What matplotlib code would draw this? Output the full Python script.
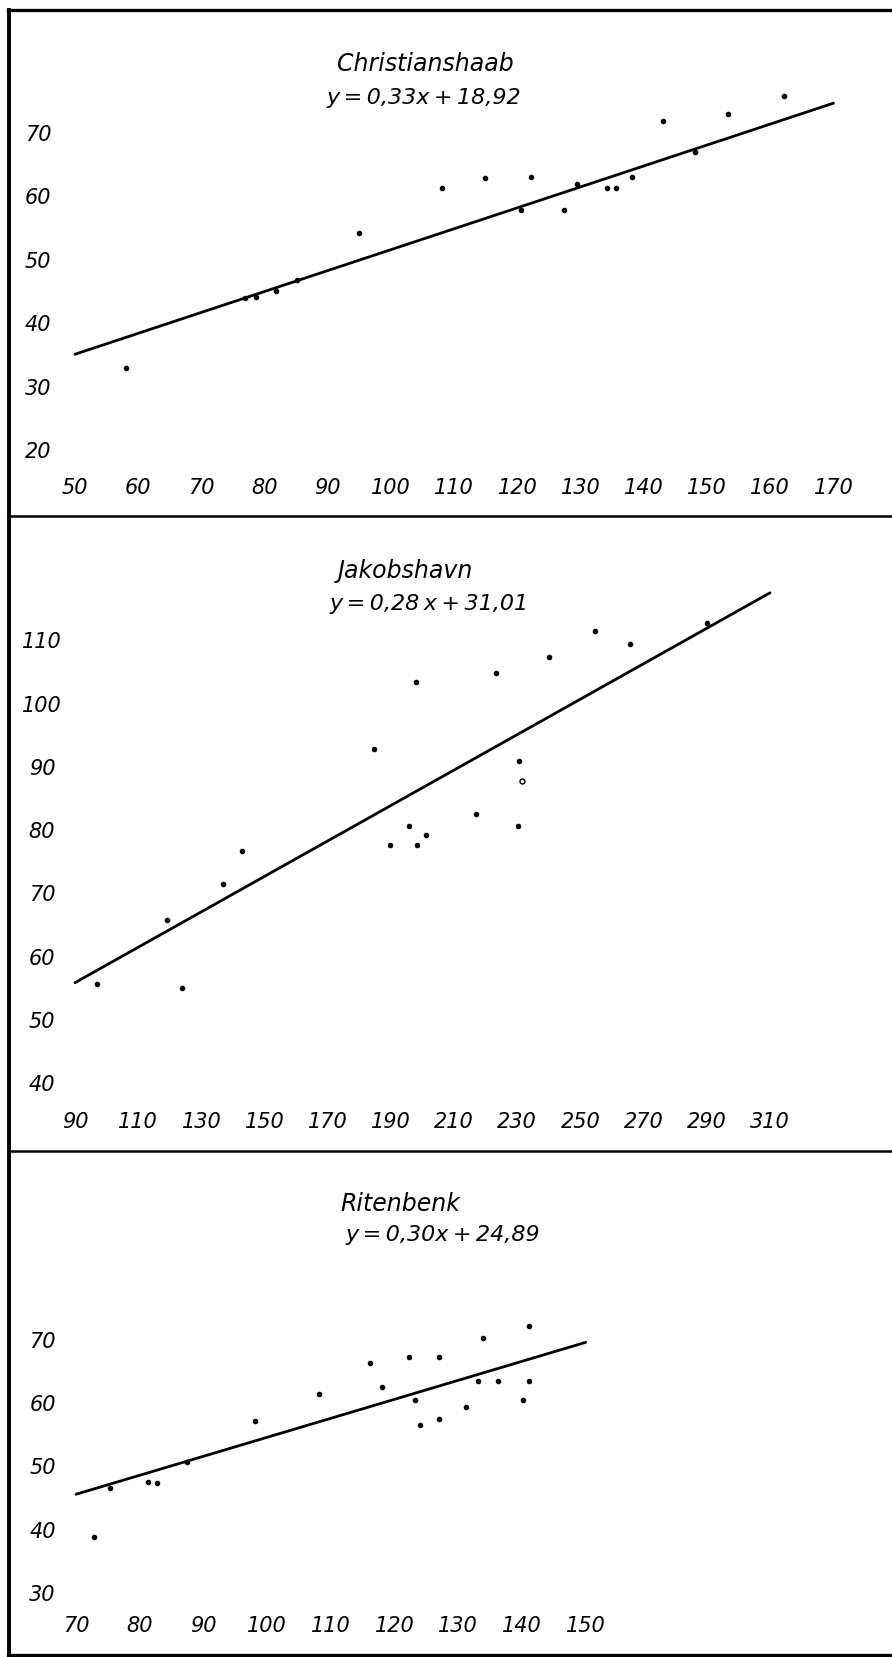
"""
Regression of three West Greenland stations, redrawn from a hand-lettered figure.
Three stacked panels: Christianshaab, Jakobshavn, Ritenbenk.
"""

import matplotlib.pyplot as plt
from matplotlib.lines import Line2D

W, H, DPI = 892, 1657, 100

# ── data ─────────────────────────────────────────────────
chr_x = [58.1, 76.9, 78.7, 81.8, 85.2, 95.0, 108.0, 114.9, 122.2, 120.6,
         127.3, 129.4, 134.2, 135.6, 138.1, 143.1, 148.1, 153.4, 162.2]
chr_y = [33.2, 44.3, 44.5, 45.4, 47.2, 54.5, 61.7, 63.2, 63.4, 58.2,
         58.2, 62.2, 61.6, 61.6, 63.3, 72.2, 67.4, 73.3, 76.2]

jak_x = [96.9, 119.0, 123.8, 136.9, 142.9, 184.8, 198.0, 189.7, 195.8, 198.3,
         201.1, 216.9, 223.2, 240.1, 254.5, 265.8, 290.0, 230.5, 230.1]
jak_y = [56.0, 66.1, 55.3, 71.8, 77.0, 93.2, 103.7, 78.0, 80.9, 77.9,
         79.5, 82.9, 105.1, 107.7, 111.7, 109.7, 113.0, 91.2, 80.9]
jak_open_x = [231.4]
jak_open_y = [88.0]

rit_x = [72.9, 75.3, 81.3, 82.7, 87.4, 98.1, 108.2, 116.1, 118.0, 122.2, 123.2,
         124.0, 127.0, 127.0, 131.2, 133.1, 133.9, 136.2, 140.1, 141.1, 141.1]
rit_y = [39.2, 46.9, 47.9, 47.6, 51.0, 57.4, 61.8, 66.7, 62.8, 67.6, 60.8,
         56.8, 67.6, 57.8, 59.7, 63.8, 70.5, 63.8, 60.8, 63.8, 72.4]

names = ['Christianshaab', 'Jakobshavn', 'Ritenbenk']
T = '\u2009'  # thin space, the lettering is set tight
equations = [f'y{T}={T}0,33x{T}+{T}18,92',
             f'y{T}={T}0,28{T}x{T}+{T}31,01',
             f'y{T}={T}0,30x{T}+{T}24,89']
slopes = [0.33, 0.28, 0.30]
intercepts = [18.92, 31.01, 24.89]
line_x = [(50, 170), (90, 310), (70, 150)]

x_ticks = [list(range(50, 171, 10)), list(range(90, 311, 20)), list(range(70, 151, 10))]
y_ticks = [list(range(20, 71, 10)), list(range(40, 111, 10)), list(range(30, 71, 10))]

# ── layout (pixels) ──────────────────────────────────────
# axes box: left, right, bottom, top in px ; limits ; label pads (px)
panels = [
    dict(box=(75, 833.4, 452, 84.3), xlim=(50, 170), ylim=(20, 78),
         ypad=37, xpad=36, title=(425, 64), eq=(424, 98)),
    dict(box=(75, 770, 1085.3, 591.6), xlim=(90, 310), ylim=(40, 118),
         ypad=33, xpad=37, title=(406, 571), eq=(429, 604)),
    dict(box=(76, 585.7, 1594.9, 1316.3), xlim=(70, 150), ylim=(30, 74),
         ypad=33.5, xpad=31, title=(400, 1204), eq=(443, 1235)),
]
series = [(chr_x, chr_y), (jak_x, jak_y), (rit_x, rit_y)]

FONT = dict(family='DejaVu Sans', style='oblique')
px2pt = 72 / DPI

fig = plt.figure(figsize=(W / DPI, H / DPI), dpi=DPI)
fig.patch.set_facecolor('white')


def fx(px):
    return px / W


def fy(py):
    return 1 - py / H


for i, p in enumerate(panels):
    l, r, b, t = p['box']
    ax = fig.add_axes([fx(l), fy(b), (r - l) / W, (b - t) / H])
    ax.set_facecolor('none')
    ax.set_xlim(*p['xlim'])
    ax.set_ylim(*p['ylim'])
    for s in ax.spines.values():
        s.set_visible(False)

    ax.set_xticks(x_ticks[i], [str(v) for v in x_ticks[i]],
                  va='center', ha='center', fontsize=15, **FONT)
    ax.set_yticks(y_ticks[i], [str(v) for v in y_ticks[i]],
                  va='center', ha='center', fontsize=15, **FONT)
    ax.tick_params(axis='x', length=0, pad=p['xpad'] * px2pt)
    ax.tick_params(axis='y', length=0, pad=p['ypad'] * px2pt)

    x0, x1 = line_x[i]
    ax.plot([x0, x1], [slopes[i] * x0 + intercepts[i], slopes[i] * x1 + intercepts[i]],
            color='black', lw=2.0, solid_capstyle='round', clip_on=False)
    xs, ys = series[i]
    ax.plot(xs, ys, 'o', color='black', ms=3.0, clip_on=False)
    if i == 1:
        ax.plot(jak_open_x, jak_open_y, 'o', mfc='white', mec='black',
                mew=1.0, ms=3.6, clip_on=False)

    tx, ty = p['title']
    fig.text(fx(tx), fy(ty), names[i], ha='center', va='center', fontsize=17, **FONT)
    ex, ey = p['eq']
    fig.text(fx(ex), fy(ey), equations[i], ha='center', va='center', fontsize=16, **FONT)

# ── outer frame and dividers ─────────────────────────────
frame = [
    ((8, 892), (10, 10), 2.4),
    ((9, 9), (10, 1657), 2.8),
    ((8, 892), (516, 516), 1.8),
    ((8, 892), (1151, 1151), 1.8),
    ((8, 892), (1655, 1655), 2.4),
]
for (xa, xb), (ya, yb), lw in frame:
    fig.add_artist(Line2D([fx(xa), fx(xb)], [fy(ya), fy(yb)],
                          transform=fig.transFigure, color='black', lw=lw))

fig.savefig('out.png', dpi=DPI, facecolor='white')
